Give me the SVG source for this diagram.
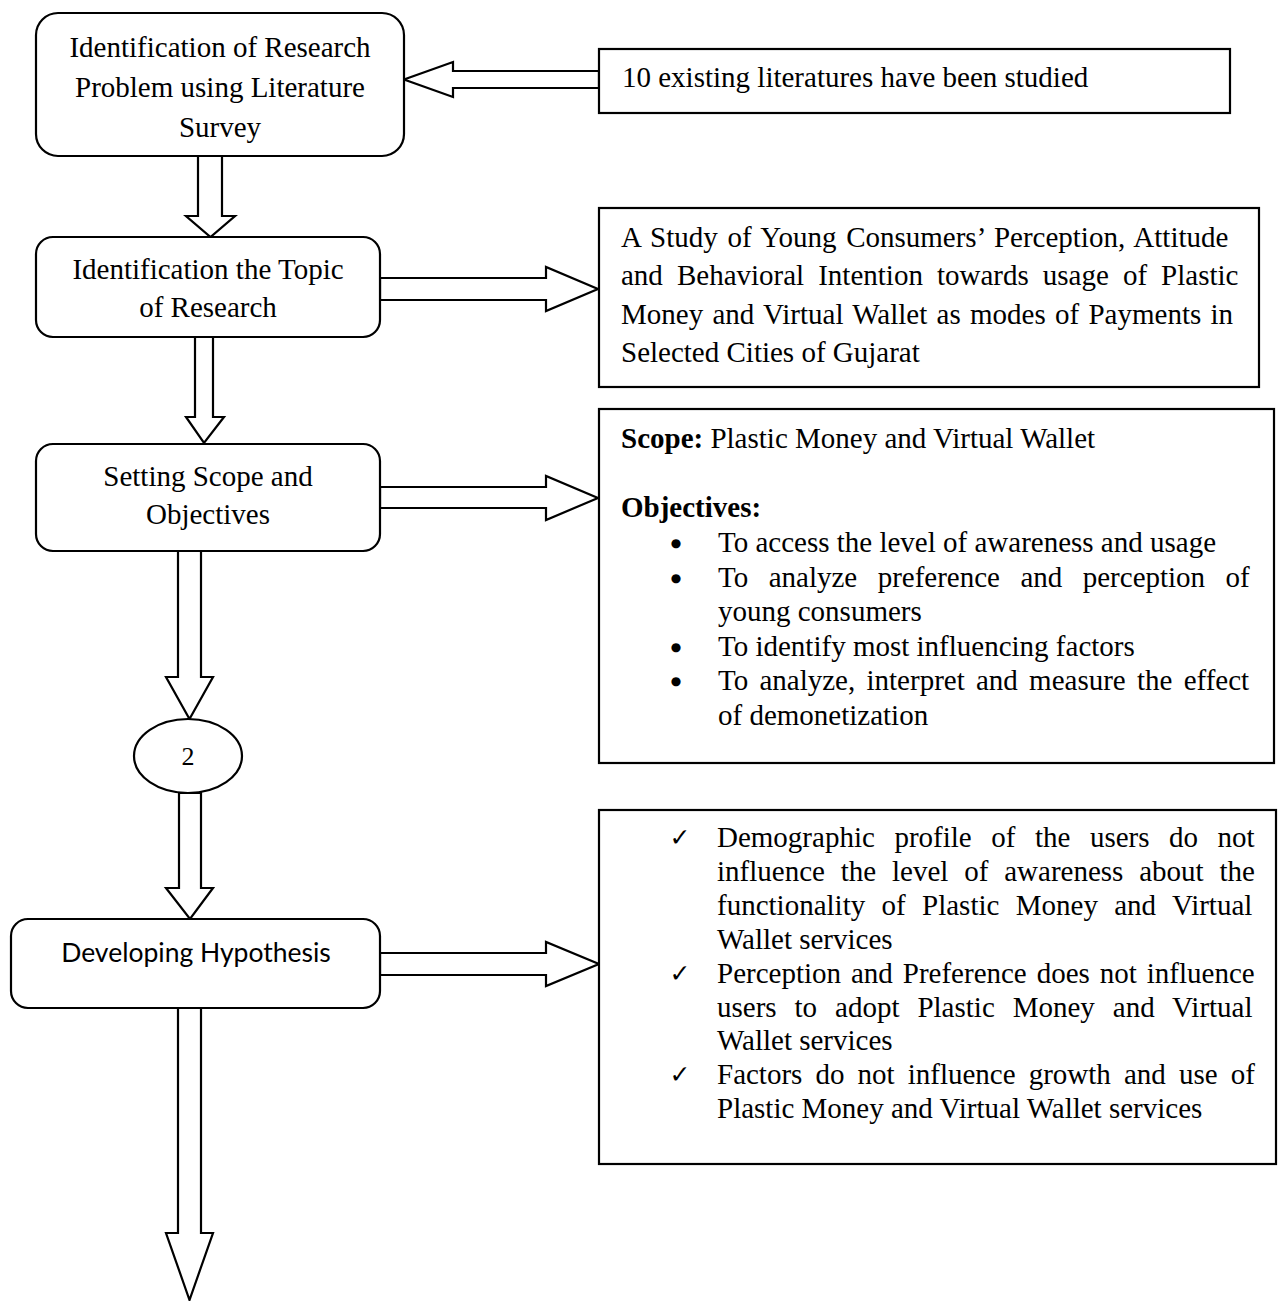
<svg xmlns="http://www.w3.org/2000/svg" width="1280" height="1301" viewBox="0 0 1280 1301">
<style>
  .bg{fill:#ffffff}
  .node{fill:#ffffff;stroke:#000000;stroke-width:2.2}
  .arrow{fill:#ffffff;stroke:#000000;stroke-width:2.2;stroke-linejoin:miter}
  .t{font-family:"Liberation Serif","Times New Roman",serif;font-size:29px;fill:#000000}
  .c{text-anchor:middle}
  .b{font-weight:bold}
  .bul{font-family:"DejaVu Sans",sans-serif;font-size:12px;fill:#000000;text-anchor:middle}
  .sans{font-family:Lato,"Open Sans","Liberation Sans",sans-serif;font-size:26.5px;fill:#000000;text-anchor:middle}
  .chk{font-family:"DejaVu Sans",sans-serif;font-size:25px;fill:#000000;text-anchor:middle}
</style>
<rect class="bg" x="0" y="0" width="1280" height="1301"/>

<g id="connectors">
  <polygon class="arrow" points="599,71 453,71 453,62 404,79.5 453,97 453,88 599,88"/>
  <polygon class="arrow" points="198,156 222,156 222,216 235,216 210.5,237 186,216 198,216"/>
  <polygon class="arrow" points="380,278 546,278 546,267 598,289 546,311 546,300 380,300"/>
  <polygon class="arrow" points="195,337 213,337 213,417 224,417 204,443 186,417 195,417"/>
  <polygon class="arrow" points="380,487 546,487 546,476 598,498 546,520 546,508 380,508"/>
  <polygon class="arrow" points="178,551 201,551 201,677 213,677 189.5,719 166,677 178,677"/>
  <polygon class="arrow" points="179,793 201,793 201,888 213,888 190,919 166,888 179,888"/>
  <polygon class="arrow" points="380,953 546,953 546,942 599,964 546,986 546,975 380,975"/>
  <polygon class="arrow" points="178,1008 201,1008 201,1233 213,1233 189.5,1300 166,1233 178,1233"/>
</g>

<g id="node-problem">
  <rect class="node" x="36" y="13" width="368" height="143" rx="22" ry="22"/>
  <text class="t c" x="220" y="57">Identification of Research</text>
  <text class="t c" x="220" y="97">Problem using Literature</text>
  <text class="t c" x="220" y="137">Survey</text>
</g>

<g id="node-literature">
  <rect class="node" x="599" y="49" width="631" height="64"/>
  <text class="t" x="622" y="87">10 existing literatures have been studied</text>
</g>

<g id="node-topic">
  <rect class="node" x="36" y="237" width="344" height="100" rx="17" ry="17"/>
  <text class="t c" x="208" y="279">Identification the Topic</text>
  <text class="t c" x="208" y="317">of Research</text>
</g>

<g id="node-title">
  <rect class="node" x="599" y="208" width="660" height="179"/>
  <text class="t" x="621" y="246.5" style="word-spacing:2.5px">A Study of Young Consumers’ Perception, Attitude</text>
  <text class="t" x="621" y="285" style="word-spacing:6.8px">and Behavioral Intention towards usage of Plastic</text>
  <text class="t" x="621" y="323.5" style="word-spacing:2.05px">Money and Virtual Wallet as modes of Payments in</text>
  <text class="t" x="621" y="362">Selected Cities of Gujarat</text>
</g>

<g id="node-scope">
  <rect class="node" x="36" y="444" width="344" height="107" rx="17" ry="17"/>
  <text class="t c" x="208" y="486">Setting Scope and</text>
  <text class="t c" x="208" y="524">Objectives</text>
</g>

<g id="node-objectives">
  <rect class="node" x="599" y="409" width="675" height="354"/>
  <text class="t" x="621" y="448"><tspan class="b">Scope:</tspan> Plastic Money and Virtual Wallet</text>
  <text class="t b" x="621" y="517">Objectives:</text>
  <text class="bul" x="676" y="547">●</text>
  <text class="t" x="718" y="552">To access the level of awareness and usage</text>
  <text class="bul" x="676" y="581.5">●</text>
  <text class="t" x="718" y="586.5" style="word-spacing:13.2px">To analyze preference and perception of</text>
  <text class="t" x="718" y="621">young consumers</text>
  <text class="bul" x="676" y="650.5">●</text>
  <text class="t" x="718" y="655.5">To identify most influencing factors</text>
  <text class="bul" x="676" y="685">●</text>
  <text class="t" x="718" y="690" style="word-spacing:4px">To analyze, interpret and measure the effect</text>
  <text class="t" x="718" y="724.5">of demonetization</text>
</g>

<g id="node-connector-2">
  <ellipse class="node" cx="188" cy="756" rx="54" ry="37"/>
  <text class="t c" x="188" y="765" style="font-size:26px">2</text>
</g>

<g id="node-hypothesis">
  <rect class="node" x="11" y="919" width="369" height="89" rx="17" ry="17"/>
  <text class="sans" x="196" y="962">Developing Hypothesis</text>
</g>

<g id="node-hypotheses-list">
  <rect class="node" x="599" y="810" width="677" height="354"/>
  <text class="chk" x="680" y="846">✓</text>
  <text class="t" x="717" y="847" style="word-spacing:12.3px">Demographic profile of the users do not</text>
  <text class="t" x="717" y="880.9" style="word-spacing:8.6px">influence the level of awareness about the</text>
  <text class="t" x="717" y="914.8" style="word-spacing:9.1px">functionality of Plastic Money and Virtual</text>
  <text class="t" x="717" y="948.7">Wallet services</text>
  <text class="chk" x="680" y="981.6">✓</text>
  <text class="t" x="717" y="982.6" style="word-spacing:2.7px">Perception and Preference does not influence</text>
  <text class="t" x="717" y="1016.5" style="word-spacing:10.7px">users to adopt Plastic Money and Virtual</text>
  <text class="t" x="717" y="1050.4">Wallet services</text>
  <text class="chk" x="680" y="1083.3">✓</text>
  <text class="t" x="717" y="1084.3" style="word-spacing:5.85px">Factors do not influence growth and use of</text>
  <text class="t" x="717" y="1118.2">Plastic Money and Virtual Wallet services</text>
</g>
</svg>
